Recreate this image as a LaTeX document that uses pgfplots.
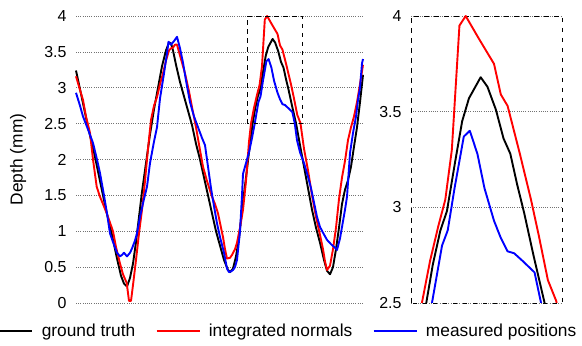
\documentclass[border=0pt]{standalone}
\usepackage{fontspec}
\setmainfont{Liberation Sans}
\usepackage{pgfplots}
\usepackage{pgfplotstable}
\pgfplotsset{compat=1.18}

\pgfplotstableread{
x y
76 3.24
82 2.85
88 2.45
94 2.1
100 1.7
106 1.3
112 0.95
117 0.62
121 0.38
124 0.27
127 0.23
130 0.35
133 0.55
136 0.85
139 1.2
142 1.55
146 1.95
150 2.35
154 2.7
158 3.0
162 3.3
166 3.52
169 3.63
171 3.62
173 3.52
176 3.32
180 3.08
184 2.88
188 2.68
192 2.48
196 2.22
200 2.0
204 1.75
208 1.5
212 1.25
216 1.0
220 0.8
224 0.6
228 0.46
230 0.43
233 0.48
236 0.65
239 0.9
242 1.3
246 1.75
249 2.1
252.6 2.5
255 2.7
257.8 2.88
260.2 2.98
263 3.22
265.8 3.45
268.3 3.57
272.6 3.68
275.1 3.63
278.2 3.51
281 3.36
283.5 3.28
286 3.12
288.6 2.97
292 2.75
296.1 2.5
300 2.2
304 1.9
308 1.6
312 1.3
316 1.05
320 0.84
324 0.6
327 0.45
330 0.40
333 0.5
336 0.75
339 1.05
342 1.38
345 1.58
348 1.71
351 1.9
354 2.18
357 2.45
360 2.8
363 3.18
}\truth

\pgfplotstableread{
x y
76 3.16
80 2.97
83 2.83
86 2.6
90 2.37
93 2.0
96.7 1.62
100 1.48
103 1.38
106.7 1.25
110 1.12
113 1.0
116 0.78
120 0.55
123 0.4
126.7 0.28
129 0.03
131 0.03
133 0.25
136 0.6
139 0.97
142 1.3
145 1.7
148 2.15
151 2.55
154 2.75
157 2.87
160 3.05
163 3.2
166 3.38
169 3.52
171 3.55
173 3.56
175 3.6
177 3.6
181 3.4
185 3.2
189 2.95
192 2.73
196 2.45
200 2.13
203 1.9
207 1.7
212 1.48
215 1.38
218 1.25
221 1.05
223 0.92
225 0.75
227 0.62
230 0.63
232 0.67
235 0.75
237 0.84
240 1.05
243 1.3
246 1.7
249 2.25
251 2.5
254 2.72
257 2.9
259.6 3.04
262 3.3
264.8 3.95
267.1 4.0
272 3.88
277.5 3.75
280 3.59
282.5 3.53
287 3.28
291.1 3.04
294 2.85
297.3 2.62
300.4 2.51
304 2.15
308 1.85
312 1.5
316 1.2
320 0.95
323 0.75
325 0.58
327 0.46
330 0.52
333 0.75
336 1.05
339 1.45
342 1.75
345 1.98
348 2.27
351 2.45
354 2.6
357 2.8
360 3.05
363 3.32
}\normals

\pgfplotstableread{
x y
76 2.93
80 2.75
83 2.6
88 2.42
93 2.23
97 2.0
100 1.81
104 1.5
107 1.25
110 0.97
113 0.85
117 0.7
120 0.65
122 0.67
124 0.7
127 0.65
130 0.7
132 0.76
135 0.87
137 0.97
140 1.2
144 1.45
147 1.62
150 1.95
154 2.25
157 2.45
160 2.85
164 3.2
167 3.48
168.5 3.64
171 3.6
174 3.65
177 3.71
180 3.55
183 3.35
186 3.1
190 2.8
194 2.6
198 2.45
202 2.3
205 2.2
208 1.9
211 1.6
214 1.35
217 1.11
220 0.92
224 0.7
227 0.48
229 0.43
231 0.44
233 0.46
235 0.5
237 0.6
240 1.0
242 1.5
243 1.8
246 1.95
249 2.1
252 2.3
254.7 2.5
258.4 2.8
260.5 2.88
263 3.1
266.4 3.37
268.6 3.4
271.4 3.28
274 3.1
277.5 2.93
280 2.84
282.5 2.77
284.9 2.76
288 2.72
292.4 2.66
294.8 2.5
297 2.27
300 2.1
304 1.95
308 1.76
311 1.6
314 1.4
317 1.2
320 1.06
323 0.98
327 0.88
331 0.82
335 0.77
337 0.74
340 0.9
342 1.06
345 1.3
347 1.48
350 2.09
353 2.37
356 2.6
358 2.83
360 3.0
362 3.34
363 3.4
}\measured

\pgfplotsset{
  every axis/.append style={
    scale only axis,
    xtick=\empty,
    major tick length=0pt,
    ymajorgrids,
    grid style={black!55, line width=0.6bp, dash pattern=on 1bp off 1.2bp},
    yticklabel style={font=\fontsize{16}{18}\selectfont, xshift=-6bp},
    /pgf/number format/assume math mode=true,
  },
  curve/.style={line width=1.9bp, line join=round},
}

\begin{document}
\begin{tikzpicture}[x=1bp,y=1bp]
\path[use as bounding box] (0,0) rectangle (582,345);
\begin{axis}[
  at={(76bp,42bp)}, anchor=south west,
  width=287bp, height=287bp,
  xmin=76, xmax=363, ymin=0, ymax=4,
  ytick={0,0.5,1,1.5,2,2.5,3,3.5,4},
  axis line style={draw=none},
  clip=false,
  ylabel={Depth (mm)},
  ylabel style={at={(axis description cs:-0.202,0.5)}, anchor=center, font=\fontsize{17.4}{20}\selectfont},
  legend columns=3,
  legend style={at={(axis description cs:-0.3067,-0.0976)}, anchor=west, draw=none, fill=none, inner sep=0pt,
    font=\fontsize{17.4}{20}\selectfont,
    /tikz/every odd column/.append style={column sep=6bp},
    /tikz/every even column/.append style={column sep=18bp}},
  legend image code/.code={\draw[#1, line width=2.6bp] (0bp,0bp) -- (43bp,0bp);},
]
\addplot[curve, black] table {\truth};
\addlegendentry{ground truth}
\addplot[curve, red] table {\normals};
\addlegendentry{integrated normals}
\addplot[curve, blue] table {\measured};
\addlegendentry{measured positions}
\draw[black, line width=0.9bp, dash pattern=on 4.5bp off 4.5bp] (axis cs:247,2.5) rectangle (axis cs:302.5,4);
\end{axis}
\begin{axis}[
  at={(411bp,42bp)}, anchor=south west,
  width=151bp, height=287bp,
  xmin=247, xmax=302.5, ymin=2.5, ymax=4,
  ytick={2.5,3,3.5,4},
  axis line style={black, line width=0.9bp, dash pattern=on 4.5bp off 5.5bp},
  clip=true,
]
\addplot[curve, black] table {\truth};
\addplot[curve, red] table {\normals};
\addplot[curve, blue] table {\measured};
\end{axis}
\end{tikzpicture}
\end{document}
